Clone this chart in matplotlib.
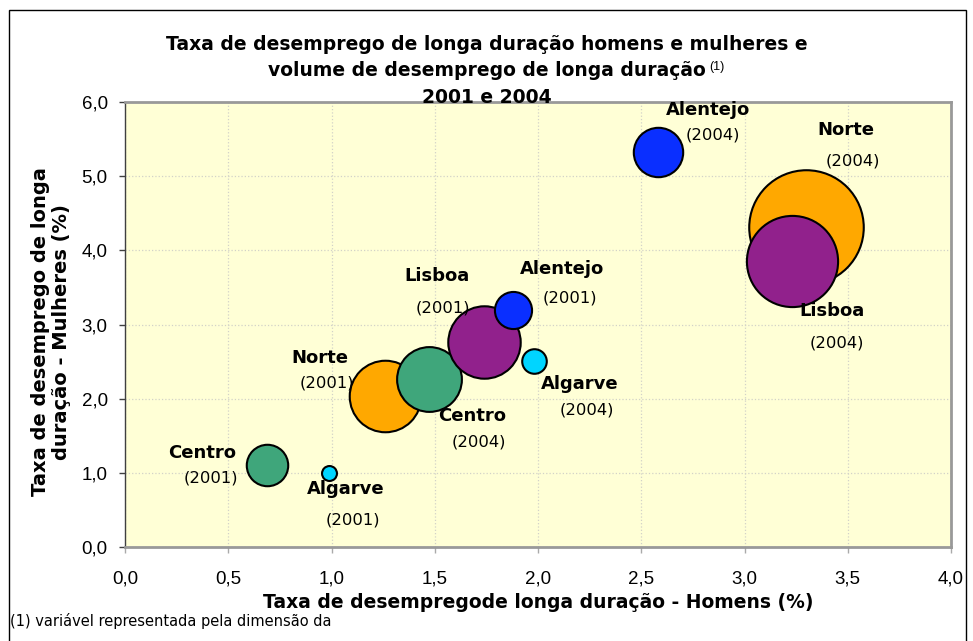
import numpy as np
import matplotlib
matplotlib.use("Agg")
import matplotlib.pyplot as plt
from matplotlib.patches import Rectangle

# data (volume in relative units, area of bubble)
regions = ['Norte', 'Centro', 'Lisboa', 'Alentejo', 'Algarve']
colors = ['#FFA800', '#3FA67B', '#91218C', '#0A2FFF', '#00D5FF']
homens_2001 = [1.26, 0.69, 1.74, 1.88, 0.99]
mulheres_2001 = [2.03, 1.10, 2.77, 3.20, 1.00]
volume_2001 = [39.0, 13.1, 40.0, 10.5, 1.7]
homens_2004 = [3.30, 1.47, 3.23, 2.58, 1.98]
mulheres_2004 = [4.32, 2.27, 3.86, 5.32, 2.51]
volume_2004 = [100.0, 32.0, 63.4, 18.6, 4.6]
x_ticks = [0.0, 0.5, 1.0, 1.5, 2.0, 2.5, 3.0, 3.5, 4.0]
y_ticks = [0, 1, 2, 3, 4, 5, 6]

# label offsets in pixels (name, year) relative to bubble centre
off_2001 = [((-65, 38), (-58, 13)), ((-65, 12), (-57, -13)), ((-47, 66), (-41, 34)),
            ((49, 41), (57, 12)), ((16, -16), (24, -47))]
off_2004 = [((39, 97), (46, 66)), ((44, -37), (50, -63)), ((40, -50), (45, -82)),
            ((50, 42), (55, 17)), ((46, -23), (53, -49))]

W, H = 973, 641
fig = plt.figure(figsize=(W / 100, H / 100), dpi=100)
ax = fig.add_axes([125 / W, 1 - 547 / H, (951 - 125) / W, (547 - 102) / H])
ax.set_facecolor('#FFFFD6')

size_k = 68
z = 3
for i, reg in enumerate(regions):
    for hx, my, vol in ((homens_2001[i], mulheres_2001[i], volume_2001[i]),
                        (homens_2004[i], mulheres_2004[i], volume_2004[i])):
        ax.scatter(hx, my, s=vol * size_k, c=colors[i], edgecolors='black',
                   linewidths=1.5, zorder=z, clip_on=False)
        z += 1
    for hx, my, offs, yr in ((homens_2001[i], mulheres_2001[i], off_2001[i], '(2001)'),
                             (homens_2004[i], mulheres_2004[i], off_2004[i], '(2004)')):
        ax.annotate(reg, (hx, my), xytext=offs[0], textcoords='offset pixels',
                    ha='center', va='center', fontsize=13, fontweight='bold',
                    family='DejaVu Sans', zorder=20)
        ax.annotate(yr, (hx, my), xytext=offs[1], textcoords='offset pixels',
                    ha='center', va='center', fontsize=11.8,
                    family='DejaVu Sans', zorder=20)

ax.set_xlim(0, 4)
ax.set_ylim(0, 6)
ax.set_xticks(x_ticks)
ax.set_yticks(y_ticks)
ax.set_xticklabels([f'{v:.1f}'.replace('.', ',') for v in x_ticks],
                   family='Liberation Sans', fontsize=13.5)
ax.set_yticklabels([f'{v:.1f}'.replace('.', ',') for v in y_ticks],
                   family='Liberation Sans', fontsize=13.5)
ax.tick_params(axis='y', direction='out', length=4.5, width=1, color='#404040', pad=8)
ax.tick_params(axis='x', direction='out', length=4, width=1, color='#AAAAAA', pad=13)
ax.grid(True, color='#D2D2C8', linestyle=':', linewidth=0.9)
ax.set_axisbelow(True)
ax.spines['left'].set_color('#404040')
ax.spines['left'].set_linewidth(1)
for s in ('top', 'right', 'bottom'):
    ax.spines[s].set_color('#999999')
    ax.spines[s].set_linewidth(2)

# titles
tf = dict(family='DejaVu Sans', fontweight='bold', fontsize=13.5, ha='center', va='baseline')
fig.text(0.5, 1 - 50 / H, 'Taxa de desemprego de longa duração homens e mulheres e', **tf)
t2 = fig.text(0.5, 1 - 76 / H, 'volume de desemprego de longa duração', **tf)
fig.text(0.5, 1 - 103 / H, '2001 e 2004', **tf, zorder=30)
fig.canvas.draw()
bb = t2.get_window_extent()
fig.text((bb.x1 + 4) / W, 1 - 70 / H, '(1)', family='Liberation Sans', fontsize=9,
         ha='left', va='baseline')

fig.text(538 / W, 1 - 603 / H, 'Taxa de desempregode longa duração - Homens (%)',
         family='DejaVu Sans', fontweight='bold', fontsize=13.5, ha='center', va='center')
fig.text(51 / W, 1 - 332 / H, 'Taxa de desemprego de longa\nduração - Mulheres (%)',
         family='DejaVu Sans', fontweight='bold', fontsize=14, ha='center', va='center',
         rotation=90, multialignment='center', linespacing=1.15)
fig.text(10 / W, 1 - 621 / H, '(1) variável representada pela dimensão da',
         family='DejaVu Sans', fontsize=10.5, ha='left', va='center')

fig.add_artist(Rectangle((9 / W, -0.1), (966 - 9) / W, 1.1 - 10 / H, transform=fig.transFigure,
                         fill=False, edgecolor='black', linewidth=1))

fig.savefig('out.png', dpi=100)
